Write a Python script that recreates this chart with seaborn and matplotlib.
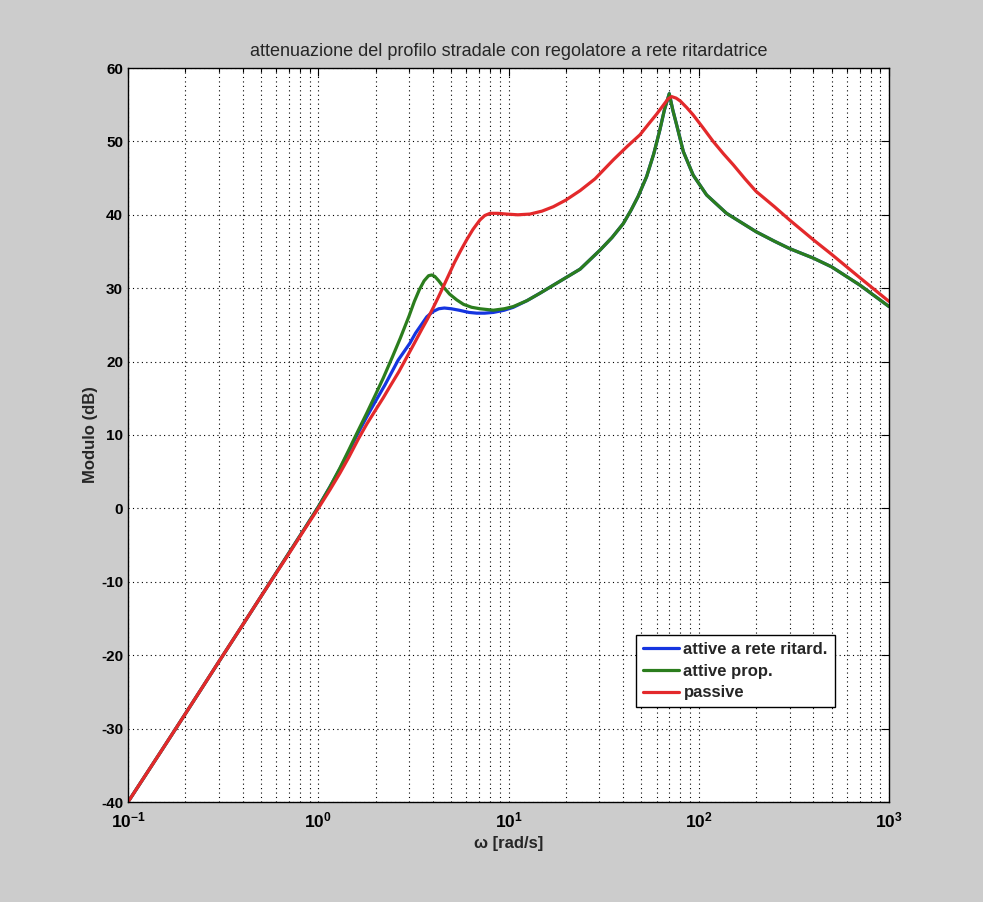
import numpy as np
import pandas as pd
import matplotlib
matplotlib.use("Agg")
import matplotlib.pyplot as plt
import seaborn as sns
from matplotlib.ticker import LogLocator, FixedLocator, NullFormatter

title = "attenuazione del profilo stradale con regolatore a rete ritardatrice"
xlabel = "\u03c9 [rad/s]"
ylabel = "Modulo (dB)"
labels = ["attive a rete ritard.", "attive prop.", "passive"]
colors = ["#1535e0", "#2b7d1d", "#e3292b"]
xtick_vals = [0.1, 1, 10, 100, 1000]
xtick_labels = [r"$10^{-1}$", r"$10^{0}$", r"$10^{1}$", r"$10^{2}$", r"$10^{3}$"]

w_blue = [0.1, 0.15, 0.2, 0.3, 0.4, 0.5, 0.7, 0.85, 1.0, 1.15, 1.3, 1.45, 1.6, 1.8, 2.0, 2.24,
          2.45, 2.63, 2.85, 3.03, 3.25, 3.5, 3.72, 4.0, 4.3, 4.6, 5.0, 5.5, 6.2, 6.81, 7.5, 8.32,
          9.5, 10.6, 12.5, 14.6, 18.5, 23.8, 30.3, 35, 40.1, 44, 48, 53.2, 58, 62.5, 66,
          70, 73, 76.6, 83, 93.5, 110, 140, 200, 250, 300, 400, 500, 705, 1000]
db_blue = [-40, -33, -28, -20.9, -15.9, -12.0, -6.1, -2.7, 0.2, 2.9, 5.4, 7.8, 10.0, 12.5, 14.6, 16.8,
           18.7, 20.2, 21.5, 22.5, 23.9, 25.1, 26.1, 26.8, 27.2, 27.3, 27.2, 27.0, 26.7, 26.6, 26.6, 26.7,
           27.0, 27.4, 28.3, 29.3, 30.9, 32.6, 35.2, 36.9, 38.8, 40.6, 42.5, 45.2, 48.3, 51.6, 54.3,
           56.5, 54.3, 52.2, 48.6, 45.4, 42.7, 40.2, 37.7, 36.4, 35.4, 34.1, 32.9, 30.4, 27.5]

w_green = [0.1, 0.15, 0.2, 0.3, 0.4, 0.5, 0.7, 0.85, 1.0, 1.15, 1.3, 1.45, 1.6, 1.8, 2.0, 2.2,
           2.45, 2.7, 3.0, 3.2, 3.4, 3.6, 3.8, 3.95, 4.1, 4.3, 4.54, 4.9, 5.35, 5.8, 6.4, 7.08,
           8.32, 9.5, 10.6, 12.5, 14.6, 18.5, 23.8, 30.3, 35, 40.1, 44, 48, 53.2, 58, 62.5, 66,
           70, 73, 76.6, 83, 93.5, 110, 140, 200, 250, 300, 400, 500, 705, 1000]
db_green = [-40, -33, -28, -20.9, -15.9, -12.0, -6.1, -2.7, 0.2, 2.9, 5.5, 8.0, 10.3, 13.0, 15.5, 17.8,
            20.6, 23.2, 26.2, 28.2, 29.8, 31.0, 31.7, 31.8, 31.6, 31.0, 30.2, 29.2, 28.4, 27.8, 27.4, 27.2,
            27.0, 27.2, 27.5, 28.3, 29.3, 30.9, 32.6, 35.2, 36.9, 38.8, 40.6, 42.5, 45.2, 48.3, 51.6, 54.3,
            56.5, 54.3, 52.2, 48.6, 45.4, 42.7, 40.2, 37.7, 36.4, 35.4, 34.1, 32.9, 30.4, 27.5]

w_red = [0.1, 0.15, 0.2, 0.3, 0.4, 0.5, 0.7, 0.85, 1.0, 1.15, 1.3, 1.45, 1.62, 1.8, 2.0, 2.2,
         2.38, 2.65, 2.92, 3.2, 3.5, 3.75, 4.03, 4.3, 4.54, 4.85, 5.2, 5.6, 6.03, 6.5, 7.08, 7.5,
         8.0, 8.8, 9.77, 11.2, 12.97, 15, 17.2, 20, 23.8, 28.5, 35.6, 42, 49.1, 55, 60, 65,
         69, 72.1, 76, 80, 86.5, 93.5, 105, 119, 135, 152, 175, 200, 250, 300, 400, 500, 705, 1000]
db_red = [-40, -33, -28, -20.9, -15.9, -12.0, -6.2, -2.8, 0.0, 2.5, 4.8, 7.0, 9.4, 11.5, 13.4, 15.1,
          16.6, 18.6, 20.6, 22.5, 24.4, 25.8, 27.4, 28.9, 30.2, 31.8, 33.5, 35.1, 36.6, 38.0, 39.3, 39.9,
          40.2, 40.2, 40.1, 40.0, 40.1, 40.5, 41.1, 42.0, 43.3, 44.9, 47.5, 49.3, 50.9, 52.5, 53.7, 54.9,
          55.8, 56.1, 55.9, 55.5, 54.6, 53.6, 51.9, 50.0, 48.3, 46.8, 44.9, 43.2, 41.1, 39.3, 36.6, 34.6, 31.4, 28.2]

frames = []
for lab, w, d in zip(labels, [w_blue, w_green, w_red], [db_blue, db_green, db_red]):
    frames.append(pd.DataFrame({"w": w, "dB": d, "serie": lab}))
df = pd.concat(frames, ignore_index=True)

sns.set_style("white")
plt.rcParams["font.family"] = ["Liberation Sans", "DejaVu Sans"]
plt.rcParams["axes.unicode_minus"] = False
plt.rcParams["mathtext.fontset"] = "custom"
plt.rcParams["mathtext.rm"] = "Liberation Sans"
plt.rcParams["mathtext.bf"] = "Liberation Sans:bold"
plt.rcParams["mathtext.default"] = "bf"

fig = plt.figure(figsize=(9.83, 9.02), dpi=100, facecolor="#cccccc")
ax = fig.add_axes([128/983, 1-802/902, (889-128)/983, (802-68)/902])
ax.set_facecolor("white")

sns.lineplot(data=df, x="w", y="dB", hue="serie", hue_order=labels, palette=colors,
             sort=False, estimator=None, linewidth=2.3, ax=ax)

ax.set_xscale("log")
ax.set_xlim(0.1, 1000)
ax.set_ylim(-40, 60)
ax.set_yticks(np.arange(-40, 61, 10))
ax.xaxis.set_major_locator(FixedLocator(xtick_vals))
ax.set_xticklabels(xtick_labels)
ax.xaxis.set_minor_locator(LogLocator(base=10, subs=np.arange(2, 10), numticks=20))
ax.xaxis.set_minor_formatter(NullFormatter())

ax.grid(True, which="major", axis="both", color="black", linestyle=(0, (1, 3)), linewidth=0.8)
ax.grid(True, which="minor", axis="x", color="black", linestyle=(0, (1, 3)), linewidth=0.8)

ax.tick_params(which="both", direction="in", top=True, right=True, length=6, width=0.8,
               labelsize=11, colors="black")
ax.tick_params(which="minor", length=3)
ax.tick_params(axis="x", which="major", pad=6)
for lbl in ax.get_yticklabels():
    lbl.set_fontweight("bold")
for lbl in ax.get_xticklabels():
    lbl.set_fontweight("bold")
    lbl.set_fontsize(12.5)
for s in ax.spines.values():
    s.set_color("black")
    s.set_linewidth(1.0)

ax.set_title(title, fontsize=13, pad=9)
ax.set_xlabel(xlabel, fontsize=12, fontweight="bold", labelpad=4)
ax.set_ylabel(ylabel, fontsize=12, fontweight="bold", labelpad=2.5)

leg = ax.legend(loc="lower left", bbox_to_anchor=(0.6675, 0.1294), frameon=True,
                fancybox=False, framealpha=1, edgecolor="black", handlelength=2.2,
                borderpad=0.4, labelspacing=0.4, handletextpad=0.25, borderaxespad=0,
                title=None, prop={"weight": "bold", "size": 12})
leg.get_frame().set_linewidth(1.0)

fig.savefig("out.png", dpi=100, facecolor=fig.get_facecolor())
